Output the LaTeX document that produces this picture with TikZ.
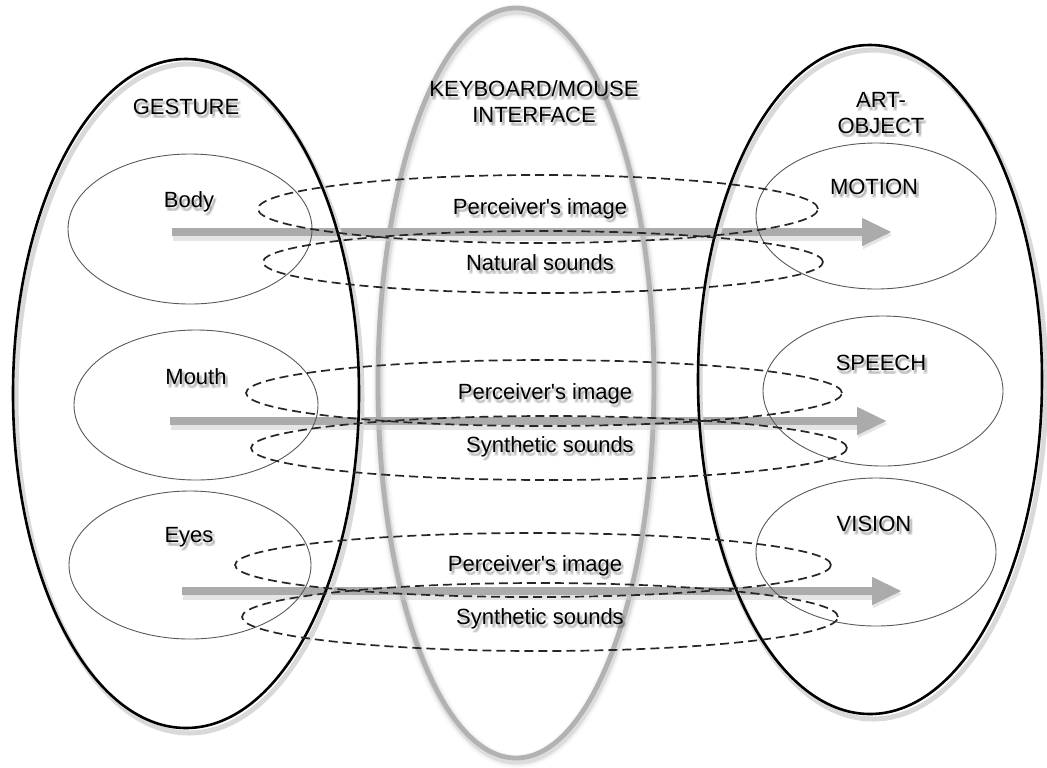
\documentclass[tikz,border=0pt]{standalone}
\usepackage{fontspec}
\setmainfont{Liberation Sans}[Ligatures=TeXOff]
\usetikzlibrary{shapes.geometric,arrows.meta}
\begin{document}
\begin{tikzpicture}[x=0.5pt,y=-0.5pt,
  big/.style={ellipse,draw=black,line width=1.3pt,inner sep=0pt},
  part/.style={ellipse,draw=black!65,line width=0.45pt,inner sep=0pt},
  channel/.style={ellipse,draw=black!85,dash pattern=on 4.5pt off 2.5pt,line width=0.85pt,inner sep=0pt},
  lbl/.style={font=\fontsize{11}{13}\selectfont,inner sep=0pt,align=center},
  haze/.style={lbl,text=black,opacity=0.10},
  flow/.style={draw=black!33,line width=4pt,-{Triangle[length=15pt,width=13pt]}}]
\useasboundingbox (0,0) rectangle (1047,767);

% soft drop shadow under a label, then the label itself
\newcommand\shlabel[3]{%
  \foreach \dx/\dy in {2/3,3/4,1/4,3/2}
    \node[haze] (#1-\dx-\dy) at ([shift={(\dx,\dy)}]#2) {#3};
  \node[lbl] (#1) at (#2) {#3};}

% interface: soft grey ring
\foreach \w/\o in {7pt/0.08,5pt/0.15,3.5pt/0.3}
  \draw[black!30,line width=\w,opacity=\o] (517,386) ellipse [x radius=69pt,y radius=187.5pt];
\node[ellipse,draw=black!30,line width=2.4pt,inner sep=0pt,minimum width=138pt,minimum height=375pt] (iface) at (516,383) {};

% flows between gesture and art-object
\coordinate (a1s) at (172,232); \coordinate (a1e) at (892,232);
\coordinate (a2s) at (170,421); \coordinate (a2e) at (887,421);
\coordinate (a3s) at (182,591); \coordinate (a3e) at (902,591);
\foreach \s/\e in {a1s/a1e,a2s/a2e,a3s/a3e}{
  \draw[flow,draw=black!20,line width=6pt,opacity=0.5] ([shift={(1,3)}]\s) -- ([shift={(1,3)}]\e);
  \draw[flow] (\s) -- (\e);}

% outer domains, each with a faint shadow ring
\foreach \c/\h in {186/393.5,870/379.5}
  \draw[black!15,line width=2.5pt] (\c+3,\h+5) ellipse [x radius=86.5pt,y radius=167.25pt];
\node[big,minimum width=173pt,minimum height=334.5pt] (gesture) at (186,393.5) {};
\node[big,minimum width=172pt,minimum height=334.5pt] (art) at (870,379.5) {};

% gesture parts
\node[part,minimum width=122pt,minimum height=75pt] (body) at (190,229) {};
\node[part,minimum width=122pt,minimum height=75pt] (mouth) at (196,405) {};
\node[part,minimum width=121pt,minimum height=74pt] (eyes) at (190,565) {};

% art-object parts
\node[part,minimum width=120pt,minimum height=73pt] (motion) at (876,216) {};
\node[part,minimum width=120pt,minimum height=75pt] (speech) at (883,391) {};
\node[part,minimum width=120pt,minimum height=74pt] (vision) at (876,552) {};

% channels
\node[channel,minimum width=280pt,minimum height=34pt] (p1) at (538,209) {};
\node[channel,minimum width=280pt,minimum height=31pt] (n1) at (543,262) {};
\node[channel,minimum width=298pt,minimum height=33pt] (p2) at (544,393) {};
\node[channel,minimum width=298pt,minimum height=32pt] (s2) at (549,448) {};
\node[channel,minimum width=298pt,minimum height=32pt] (p3) at (533,565) {};
\node[channel,minimum width=298pt,minimum height=34pt] (s3) at (540,617) {};

% labels
\shlabel{tgesture}{186,107}{GESTURE}
\shlabel{tiface}{534,102}{KEYBOARD/MOUSE\\INTERFACE}
\shlabel{tart}{881,113}{ART-\\OBJECT}
\shlabel{tbody}{189,202}{Body}
\shlabel{tmouth}{196,377}{Mouth}
\shlabel{teyes}{189,537}{Eyes}
\shlabel{tmotion}{874,187}{MOTION}
\shlabel{tspeech}{881,363}{SPEECH}
\shlabel{tvision}{874,524}{VISION}
\shlabel{tp1}{540,209}{Perceiver's image}
\shlabel{tn1}{540,263}{Natural sounds}
\shlabel{tp2}{545,394}{Perceiver's image}
\shlabel{ts2}{550,447}{Synthetic sounds}
\shlabel{tp3}{535,566}{Perceiver's image}
\shlabel{ts3}{540,619}{Synthetic sounds}
\end{tikzpicture}
\end{document}
